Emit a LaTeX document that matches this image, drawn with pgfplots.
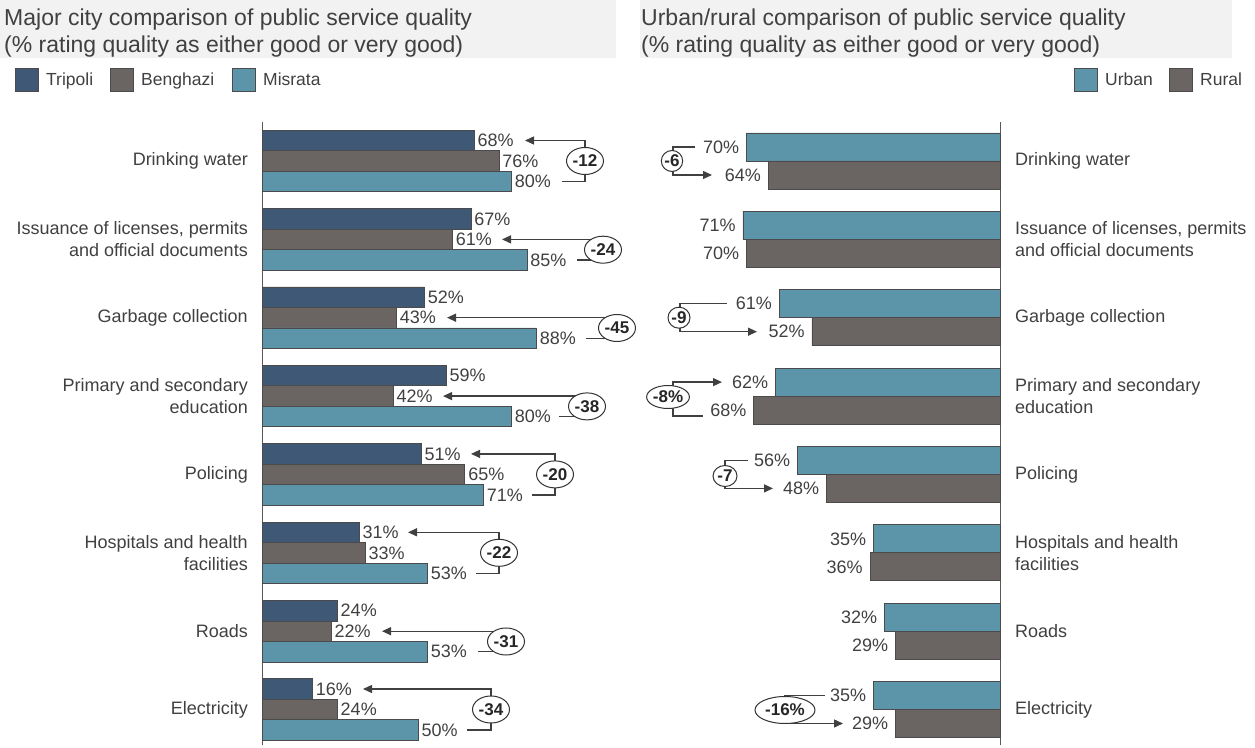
\documentclass[border=0pt]{standalone}
\usepackage{fontspec}
\setmainfont{Liberation Sans}
\usepackage{pgfplots}
\usepackage{pgfplotstable}
\pgfplotsset{compat=1.18}
\usetikzlibrary{arrows.meta,shapes.geometric}

\definecolor{tripoli}{RGB}{62,88,118}
\definecolor{benghazi}{RGB}{106,101,99}
\definecolor{misrata}{RGB}{92,148,170}
\definecolor{edge}{RGB}{75,75,75}
\definecolor{txt}{RGB}{64,64,64}
\definecolor{titlebg}{RGB}{242,242,242}

% pos: 7 = Drinking water (top) ... 0 = Electricity (bottom)
\pgfplotstableread{
pos tripoli benghazi misrata
7 68 76 80
6 67 61 85
5 52 43 88
4 59 42 80
3 51 65 71
2 31 33 53
1 24 22 53
0 16 24 50
}\citydata

\pgfplotstableread{
pos urban rural
7 70 64
6 71 70
5 61 52
4 62 68
3 56 48
2 35 36
1 32 29
0 35 29
}\urbandata

\tikzset{
  ann/.style={draw=txt, line width=1.3pt},
  arr/.style={ann, -{Triangle[length=9pt,width=8pt]}},
  bub/.style={ellipse, draw=black!80, line width=1pt, fill=white, inner sep=0pt,
              font=\bfseries\fontsize{17}{20}\selectfont, text=black!85},
}

\begin{document}
\begin{tikzpicture}[text=txt]

% ---------------- left panel ----------------
\begin{axis}[
  at={(262.7pt,625pt)}, anchor=north west,
  scale only axis, width=311pt, height=623pt,
  xmin=0, xmax=100, ymin=-0.452, ymax=7.4977,
  hide x axis, axis y line*=left,
  axis line style={draw=black!65, line width=0.9pt},
  ytick={0,...,7},
  yticklabels={Electricity, Roads, Hospitals and health\\facilities, Policing,
    Primary and secondary\\education, Garbage collection,
    {Issuance of licenses, permits\\and official documents}, Drinking water},
  yticklabel style={align=right, font=\fontsize{18}{22}\selectfont, text=txt,
    inner sep=0pt, xshift=-14.7pt},
  major tick length=0pt,
  xbar, bar width=20.5pt,
  point meta=x,
  nodes near coords={\pgfmathprintnumber{\pgfplotspointmeta}\%},
  nodes near coords style={font=\fontsize{18}{22}\selectfont, text=txt,
    anchor=west, inner sep=3pt},
  /pgf/number format/assume math mode=true,
  clip=false,
]
\addplot[fill=tripoli, draw=edge, line width=0.8pt, bar shift=20.5pt]
  table[x=tripoli, y=pos] {\citydata};
\addplot[fill=benghazi, draw=edge, line width=0.8pt, bar shift=0pt]
  table[x=benghazi, y=pos] {\citydata};
\addplot[fill=misrata, draw=edge, line width=0.8pt, bar shift=-20.5pt]
  table[x=misrata, y=pos] {\citydata};
\end{axis}

% ---------------- right panel ----------------
\begin{axis}[
  at={(1000.7pt,625pt)}, anchor=north east,
  scale only axis, width=363pt, height=623pt,
  x dir=reverse,
  xmin=0, xmax=100, ymin=-0.452, ymax=7.4977,
  hide x axis, axis y line*=right,
  axis line style={draw=black!65, line width=0.9pt},
  ytick={0,...,7},
  yticklabels={Electricity, Roads, Hospitals and health\\facilities, Policing,
    Primary and secondary\\education, Garbage collection,
    {Issuance of licenses, permits\\and official documents}, Drinking water},
  yticklabel style={align=left, font=\fontsize{18}{22}\selectfont, text=txt,
    inner sep=0pt, anchor=west, xshift=14.3pt},
  major tick length=0pt,
  xbar, bar width=28pt,
  point meta=x,
  nodes near coords={\pgfmathprintnumber{\pgfplotspointmeta}\%},
  nodes near coords style={font=\fontsize{18}{22}\selectfont, text=txt,
    anchor=east, inner sep=3pt, xshift=-4pt},
  /pgf/number format/assume math mode=true,
  clip=false,
]
\addplot[fill=misrata, draw=edge, line width=0.8pt, bar shift=14pt]
  table[x=urban, y=pos] {\urbandata};
\addplot[fill=benghazi, draw=edge, line width=0.8pt, bar shift=-14pt]
  table[x=rural, y=pos] {\urbandata};
\end{axis}

% ---------------- titles, legends, annotations (pixel coordinates) ----------------
\begin{scope}[x=1pt, y=-1pt, yshift=747pt]
  \fill[titlebg] (0,0) rectangle (616,58);
  \fill[titlebg] (640,0) rectangle (1232,58);
  \begin{scope}[every node/.style={anchor=base west, inner sep=0pt,
      font=\fontsize{23}{27}\selectfont, text=txt}]
    \node at (4,26) {Major city comparison of public service quality};
    \node at (4,53) {(\% rating quality as either good or very good)};
    \node at (641,26) {Urban/rural comparison of public service quality};
    \node at (641,53) {(\% rating quality as either good or very good)};
  \end{scope}

  % legends
  \begin{scope}[every node/.style={anchor=base west, inner sep=0pt,
      font=\fontsize{17.5}{20}\selectfont, text=txt}]
    \filldraw[fill=tripoli, draw=edge, line width=0.8pt] (15,68) rectangle (38,91);
    \node at (46,86) {Tripoli};
    \filldraw[fill=benghazi, draw=edge, line width=0.8pt] (110,68) rectangle (133,91);
    \node at (141,86) {Benghazi};
    \filldraw[fill=misrata, draw=edge, line width=0.8pt] (232,68) rectangle (255,91);
    \node at (263,86) {Misrata};
    \filldraw[fill=misrata, draw=edge, line width=0.8pt] (1074,68) rectangle (1097,91);
    \node at (1105,86) {Urban};
    \filldraw[fill=benghazi, draw=edge, line width=0.8pt] (1169,68) rectangle (1192,91);
    \node at (1200,86) {Rural};
  \end{scope}

  % left annotations
  \draw[arr] (562,181.5)--(585,181.5)--(585,140.5)--(525,140.5);
  \node[bub, minimum width=37pt, minimum height=27pt] at (585,161) {-12};
  \draw[arr] (577,259.9)--(603,259.9)--(603,239.4)--(502,239.4);
  \node[bub, minimum width=37pt, minimum height=27pt] at (603,249.7) {-24};
  \draw[arr] (586,338.2)--(617,338.2)--(617,317.7)--(447,317.7);
  \node[bub, minimum width=37pt, minimum height=27pt] at (617,328) {-45};
  \draw[arr] (559,416.6)--(587,416.6)--(587,396.1)--(443,396.1);
  \node[bub, minimum width=37pt, minimum height=27pt] at (587,406.4) {-38};
  \draw[arr] (532,494.9)--(555,494.9)--(555,453.9)--(471,453.9);
  \node[bub, minimum width=37pt, minimum height=27pt] at (555,474.4) {-20};
  \draw[arr] (476,573.3)--(499,573.3)--(499,532.3)--(408,532.3);
  \node[bub, minimum width=37pt, minimum height=27pt] at (499,552.8) {-22};
  \draw[arr] (478,651.7)--(506,651.7)--(506,631.2)--(382,631.2);
  \node[bub, minimum width=37pt, minimum height=27pt] at (506,641.5) {-31};
  \draw[arr] (467,730)--(491,730)--(491,689)--(363,689);
  \node[bub, minimum width=37pt, minimum height=27pt] at (491,709.5) {-34};

  % right annotations
  \draw[arr] (695,147)--(673,147)--(673,175)--(712,175);
  \node[bub, minimum width=21pt, minimum height=21pt] at (672,161) {-6};
  \draw[arr] (727,303.7)--(680,303.7)--(680,331.7)--(757,331.7);
  \node[bub, minimum width=22pt, minimum height=21pt] at (679,317.7) {-9};
  \draw[arr] (703,416)--(673,416)--(673,382.1)--(722,382.1);
  \node[bub, minimum width=41pt, minimum height=23pt] at (668,397) {-8\%};
  \draw[arr] (748,460.4)--(725,460.4)--(725,488.4)--(773,488.4);
  \node[bub, minimum width=24pt, minimum height=21pt] at (725,476) {-7};
  \draw[arr] (825,695.5)--(785,695.5)--(785,723.5)--(843,723.5);
  \node[bub, minimum width=60pt, minimum height=27pt] at (785,710) {-16\%};
\end{scope}

\pgfresetboundingbox
\useasboundingbox (0,0) rectangle (1255pt,747pt);
\end{tikzpicture}
\end{document}
